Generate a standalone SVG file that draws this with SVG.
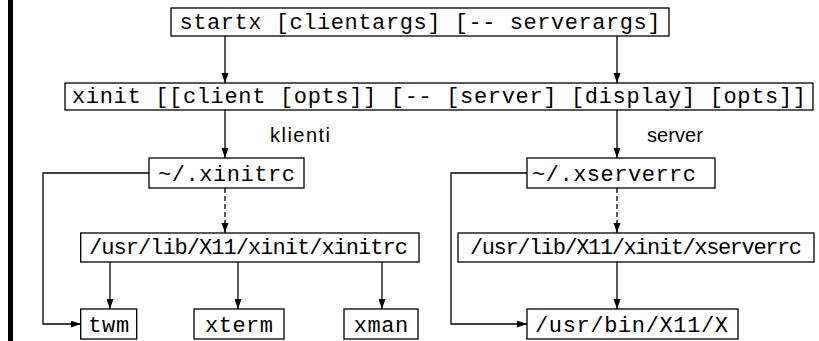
<svg xmlns="http://www.w3.org/2000/svg" width="819" height="341" viewBox="0 0 819 341">
<style>
.box{fill:#fff;stroke:#000;stroke-width:1.3}
.t{font-family:"Liberation Mono","DejaVu Sans Mono",monospace;font-size:22px;fill:#000;text-anchor:middle}
.lbl{font-family:"Liberation Sans","DejaVu Sans",sans-serif;font-size:20px;fill:#000}
.c{fill:none;stroke:#000;stroke-width:1.3}
.d{stroke-dasharray:5 3}
</style>
<defs>
<marker id="ah" markerUnits="userSpaceOnUse" markerWidth="11" markerHeight="8" refX="10" refY="3.5" orient="auto">
<path d="M0,0 L10,3.5 L0,7 z" fill="#000"/>
</marker>
</defs>
<rect x="8" y="0" width="5" height="341" fill="#000"/>
<g id="connectors">
<line class="c" x1="225" y1="36" x2="225" y2="83" marker-end="url(#ah)"/>
<line class="c" x1="617" y1="36" x2="617" y2="83" marker-end="url(#ah)"/>
<line class="c" x1="225" y1="110" x2="225" y2="158" marker-end="url(#ah)"/>
<line class="c" x1="617" y1="110" x2="617" y2="158" marker-end="url(#ah)"/>
<line class="c d" x1="225" y1="188" x2="225" y2="233" marker-end="url(#ah)"/>
<line class="c d" x1="617" y1="188" x2="617" y2="233" marker-end="url(#ah)"/>
<line class="c" x1="110" y1="262" x2="110" y2="309" marker-end="url(#ah)"/>
<line class="c" x1="238" y1="262" x2="238" y2="309" marker-end="url(#ah)"/>
<line class="c" x1="382" y1="262" x2="382" y2="309" marker-end="url(#ah)"/>
<line class="c" x1="617" y1="262" x2="617" y2="309" marker-end="url(#ah)"/>
<polyline class="c" points="149,173 43,173 43,324 80.7,324" marker-end="url(#ah)"/>
<polyline class="c" points="527,173 451,173 451,324 527,324" marker-end="url(#ah)"/>
<text class="lbl" x="270" y="142" textLength="60">klienti</text>
<text class="lbl" x="647" y="142" textLength="56">server</text>
</g>
<g id="startx">
<rect class="box" x="171" y="8" width="498" height="28"/>
<text class="t" x="420" y="28.5" textLength="481">startx [clientargs] [-- serverargs]</text>
</g>
<g id="xinit">
<rect class="box" x="65" y="83" width="748" height="27"/>
<text class="t" x="439" y="103" textLength="734">xinit [[client [opts]] [-- [server] [display] [opts]]</text>
</g>
<g id="xinitrc">
<rect class="box" x="149" y="158" width="155" height="30"/>
<text class="t" x="226.5" y="181" textLength="137">~/.xinitrc</text>
</g>
<g id="xserverrc">
<rect class="box" x="527" y="158" width="188" height="30"/>
<text class="t" x="614" y="181" textLength="164">~/.xserverrc</text>
</g>
<g id="sys-xinitrc">
<rect class="box" x="80.7" y="233" width="338.3" height="29"/>
<text class="t" x="248.5" y="254" textLength="319">/usr/lib/X11/xinit/xinitrc</text>
</g>
<g id="sys-xserverrc">
<rect class="box" x="458" y="233" width="356" height="29"/>
<text class="t" x="636" y="254" textLength="332">/usr/lib/X11/xinit/xserverrc</text>
</g>
<g id="twm">
<rect class="box" x="80.7" y="309" width="56" height="30"/>
<text class="t" x="108.7" y="331.5" textLength="41">twm</text>
</g>
<g id="xterm">
<rect class="box" x="194" y="309" width="90" height="30"/>
<text class="t" x="239" y="331.5" textLength="68">xterm</text>
</g>
<g id="xman">
<rect class="box" x="344" y="309" width="74" height="30"/>
<text class="t" x="381" y="331.5" textLength="54.5">xman</text>
</g>
<g id="xserver">
<rect class="box" x="527" y="309" width="211" height="30"/>
<text class="t" x="631.5" y="331.5" textLength="193">/usr/bin/X11/X</text>
</g>
</svg>
